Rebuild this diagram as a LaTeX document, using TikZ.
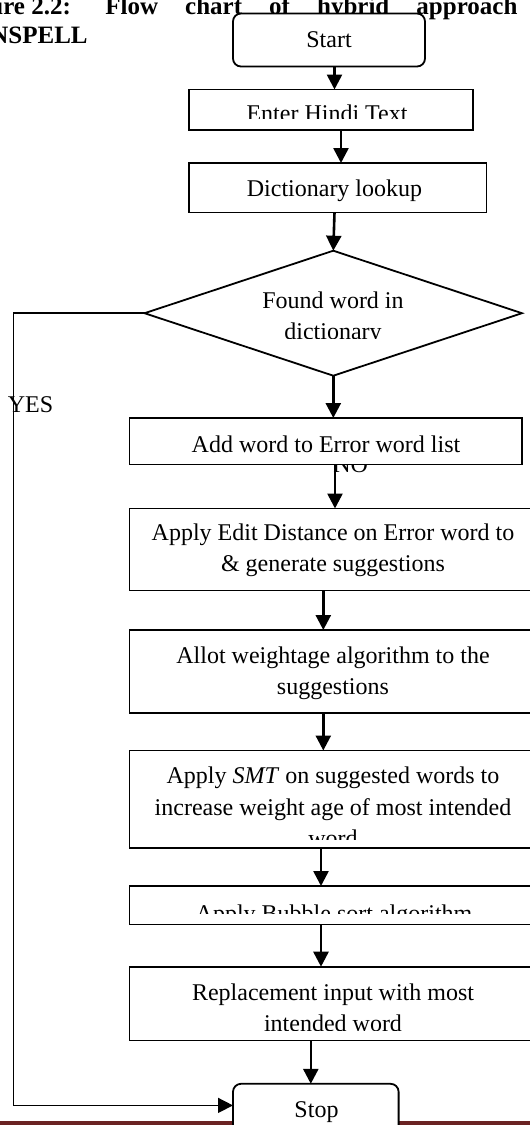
\documentclass[tikz,border=0pt]{standalone}
\usepackage{fontspec}
\setmainfont{Liberation Serif}
\usetikzlibrary{arrows.meta,shapes.geometric}
\definecolor{barred}{RGB}{107,35,35}
\begin{document}
\begin{tikzpicture}[x=0.5pt,y=-0.5pt,
  flowbox/.style={draw,line width=0.9pt,fill=white,rectangle,inner sep=0pt,outer sep=0pt},
  roundbox/.style={flowbox,rounded corners=4pt},
  lbl/.style={inner sep=0pt,anchor=base,font=\fontsize{12}{14}\selectfont},
  ttl/.style={inner sep=0pt,anchor=base west,font=\fontsize{12.5}{14}\selectfont\bfseries},
  arr/.style={line width=1.3pt,-{Triangle[width=7.5pt,length=7.5pt]}},
  loopline/.style={line width=0.75pt,-{Triangle[width=7.5pt,length=7.5pt]}}]
\useasboundingbox (0,0) rectangle (530,1125);
% title
\node[ttl] (t1) at (-11,14.5) {ure 2.2:};
\node[ttl] (t2) at (105,14.5) {\makebox[206pt][s]{Flow chart of hybrid approach}};
\node[ttl] (t3) at (-10,43.5) {NSPELL};
% bottom bar
\fill[barred] (0,1121) rectangle (530,1126);
% NO label (behind box)
\node[lbl,anchor=base west] (no) at (333,472) {NO};
\node[lbl,anchor=base west] (yes) at (7.4,412.8) {YES};
% boxes
\node[roundbox,minimum width=96pt,minimum height=26.5pt] (start) at (329,40) {};
\node[flowbox,minimum width=142.2pt,minimum height=20.25pt] (enter) at (330.8,109.75) {};
\node[flowbox,minimum width=148.95pt,minimum height=24.75pt] (dict) at (337.55,187.75) {};
\node[draw,line width=0.9pt,fill=white,diamond,inner sep=0pt,outer sep=0pt,minimum width=188.7pt,minimum height=62.5pt] (dia) at (333.3,313.2) {};
\node[flowbox,minimum width=196.3pt,minimum height=23.25pt] (add) at (325.7,441.25) {};
\node[flowbox,minimum width=203.8pt,minimum height=41pt] (edit) at (333.2,549.5) {};
\node[flowbox,minimum width=203.8pt,minimum height=41.35pt] (allot) at (333.2,671.35) {};
\node[flowbox,minimum width=203.8pt,minimum height=48.75pt] (smt) at (333.2,799.25) {};
\node[flowbox,minimum width=203.8pt,minimum height=19.25pt] (bubble) at (333.2,905.25) {};
\node[flowbox,minimum width=203.8pt,minimum height=36.9pt] (repl) at (333.2,1003.6) {};
\node[roundbox,minimum width=82.8pt,minimum height=28.1pt] (stop) at (315.8,1111.9) {};
% texts
\node[lbl] (tstart) at (329,47.3) {Start};
\begin{scope}
  \clip (100,80) rectangle (530,118.6);
  \node[lbl] (tenter) at (327,121) {Enter Hindi Text};
\end{scope}
\node[lbl] (tdict) at (334.5,196) {Dictionary lookup};
\node[lbl] (tdia1) at (333,308) {Found word in};
\begin{scope}
  \clip (100,315) rectangle (530,338);
  \node[lbl] (tdia2) at (333,339.5) {dictionary};
\end{scope}
\node[lbl] (tadd) at (326,452) {Add word to Error word list};
\node[lbl] (tedit1) at (333,540.5) {Apply Edit Distance on Error word to};
\node[lbl] (tedit2) at (333,571.7) {\& generate suggestions};
\node[lbl] (tallot1) at (333,663) {Allot weightage algorithm to the};
\node[lbl] (tallot2) at (333,694.5) {suggestions};
\node[lbl] (tsmt1) at (333,783.3) {Apply \textit{SMT} on suggested words to};
\node[lbl] (tsmt2) at (333,815) {increase weight age of most intended};
\begin{scope}
  \clip (130,820) rectangle (530,839);
  \node[lbl] (tsmt3) at (333,846.5) {word};
\end{scope}
\begin{scope}
  \clip (130,888) rectangle (530,913.5);
  \node[lbl] (tbubble) at (334,921) {Apply Bubble sort algorithm};
\end{scope}
\node[lbl] (trepl1) at (333,1000) {Replacement input with most};
\begin{scope}
  \clip (130,1005) rectangle (530,1030.5);
  \node[lbl] (trepl2) at (333,1031.5) {intended word};
\end{scope}
\node[lbl] (tstop) at (316.5,1117) {Stop};
% arrow x positions
\coordinate (x1) at (334.5,0);
\coordinate (x2) at (341,0);
\coordinate (x3) at (334.5,0);
\coordinate (x5) at (335,0);
\coordinate (x6) at (323.3,0);
\coordinate (x8) at (321,0);
\coordinate (x10) at (310.8,0);
\coordinate (yl) at (13.5,1105.4);
% arrows
\draw[arr] (start.south -| x1) -- (enter.north -| x1);
\draw[arr] (enter.south -| x2) -- (dict.north -| x2);
\draw[arr] (dict.south -| x3) -- (dia.north);
\draw[arr] (dia.south) -- (add.north -| dia.south);
\draw[arr] (add.south -| x5) -- (edit.north -| x5);
\draw[arr] (edit.south -| x6) -- (allot.north -| x6);
\draw[arr] (allot.south -| x6) -- (smt.north -| x6);
\draw[arr] (smt.south -| x8) -- (bubble.north -| x8);
\draw[arr] (bubble.south -| x8) -- (repl.north -| x8);
\draw[arr] (repl.south -| x10) -- (stop.north -| x10);
\draw[loopline] (dia.west) -| (yl) -- (yl -| stop.west);
\end{tikzpicture}
\end{document}
